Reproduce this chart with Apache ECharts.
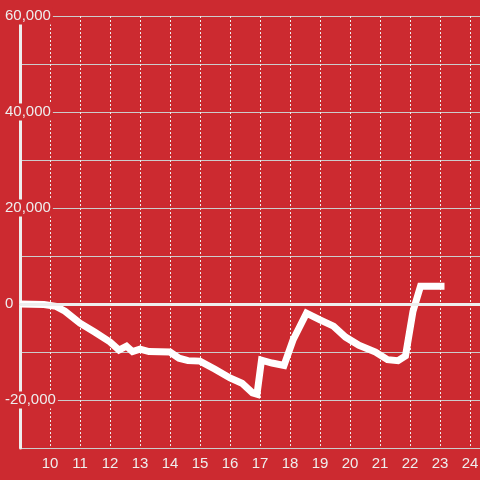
<!DOCTYPE html>
<html>
<head>
<meta charset="utf-8">
<script src="https://cdn.jsdelivr.net/npm/echarts@6/dist/echarts.min.js"></script>
<style>
  html, body { margin: 0; padding: 0; background: #cc2a30; overflow: hidden; }
  #show { width: 500px; height: 480px; }
</style>
</head>
<body>
<div id="show"></div>
<script>
var myChart = echarts.init(document.getElementById("show"));

// hours (x) and running balance (y)
var hours = [9.0, 9.8, 10.2, 10.5, 11.0, 11.5, 12.0, 12.3, 12.55, 12.75, 13.0, 13.3, 14.0, 14.3, 14.6, 15.0,
    15.5, 16.0, 16.4, 16.75, 16.9, 17.05, 17.4, 17.8, 18.1, 18.55, 19.0, 19.45, 19.85, 20.3, 20.85,
    21.25, 21.6, 21.85, 22.1, 22.35, 23.15];
var balance = [0, -100, -500, -1500, -4000, -5900, -7900, -9600, -8800, -9900, -9400, -9900, -10000, -11300, -11800, -11900,
    -13600, -15400, -16500, -18500, -18800, -11700, -12300, -12800, -7500, -1900, -3300, -4600, -6900, -8600, -10000,
    -11600, -11800, -10800, -1500, 3700, 3700];

var points = hours.map(function (h, i) { return [h, balance[i]]; });

var font = 'Liberation Sans';

myChart.setOption(option = {
    backgroundColor: '#cc2a30',
    animation: false,
    grid: {
        left: 20,
        right: 0,
        top: 16,
        bottom: 32,
        outerBoundsMode: 'none'
    },
    xAxis: {
        type: 'value',
        min: 9,
        max: 25,
        interval: 1,
        axisLine: {lineStyle: {color: '#ccc', width: 1}},
        axisTick: {show: false},
        axisLabel: {
            color: '#eee',
            fontSize: 15,
            fontFamily: font,
            margin: 8,
            showMinLabel: false,
            showMaxLabel: false
        },
        splitLine: {
            show: true,
            lineStyle: {color: '#eee', type: [2, 2], width: 1}
        }
    },
    yAxis: {
        type: 'value',
        min: -30000,
        max: 60000,
        interval: 10000,
        axisLine: {show: true, lineStyle: {color: '#eee', width: 3}},
        axisTick: {show: false},
        axisLabel: {
            color: '#eee',
            fontSize: 15,
            fontFamily: font,
            align: 'left',
            margin: 15,
            backgroundColor: '#cc2a30',
            padding: [1, 2, 1, 0],
            formatter: function (v) {
                if (v % 20000 !== 0) return '';
                return v.toLocaleString('en-US');
            }
        },
        splitLine: {lineStyle: {color: '#ccc', width: 1}}
    },
    series: [
        {
            type: 'line',
            data: points,
            showSymbol: false,
            symbol: 'none',
            lineStyle: {color: '#fff', width: 7, join: 'miter'},
            markLine: {
                silent: true,
                symbol: 'none',
                label: {show: false},
                lineStyle: {color: '#eee', width: 3, type: 'solid'},
                data: [{yAxis: 0}]
            },
            z: 3
        }
    ]
});
</script>
</body>
</html>
